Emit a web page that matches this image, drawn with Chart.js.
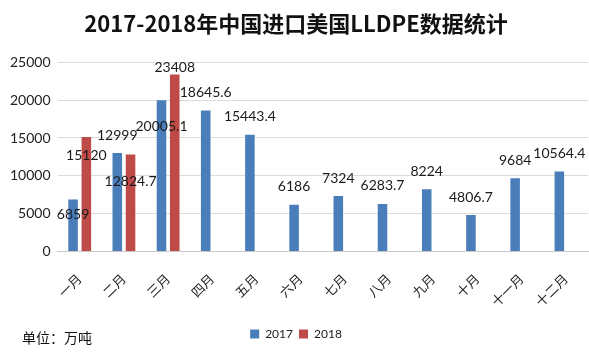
<!DOCTYPE html>
<html>
<head>
<meta charset="utf-8">
<script src="https://cdn.jsdelivr.net/npm/chart.js@4"></script>
<style>
  html, body { margin: 0; padding: 0; background: #fff; }
  #wrap { position: relative; width: 589px; height: 358px; }
  #unit { position: absolute; left: 22px; top: 327px; font: 14px "Noto Sans CJK SC", sans-serif; color: #111; }
</style>
</head>
<body>
<div id="wrap">
  <canvas id="c" width="589" height="358"></canvas>
  <div id="unit">单位：万吨</div>
</div>
<script>
const months = ["一月", "二月", "三月", "四月", "五月", "六月", "七月", "八月", "九月", "十月", "十一月", "十二月"];
const data2017 = [6859, 12999, 20005.1, 18645.6, 15443.4, 6186, 7324, 6283.7, 8224, 4806.7, 9684, 10564.4];
const data2018 = [15120, 12824.7, 23408, null, null, null, null, null, null, null, null, null];
// label nudges (px down from the default spot above the bar), like the hand-moved labels in the original
const shift2017 = [33, 0, 44, 0, 0, 0, 0, 0, 0, 0, 0, 0];
const shift2018 = [36, 45, 11, 0, 0, 0, 0, 0, 0, 0, 0, 0];

const fontFam = "Lato, 'Noto Sans CJK SC', sans-serif";

// 数据标签
const labelPlugin = {
  id: "barLabels",
  afterDatasetsDraw(chart) {
    const ctx = chart.ctx;
    const shifts = [shift2017, shift2018];
    ctx.save();
    ctx.font = "14px " + fontFam;
    ctx.fillStyle = "#1a1a1a";
    ctx.textAlign = "center";
    ctx.textBaseline = "middle";
    chart.data.datasets.forEach((ds, di) => {
      const meta = chart.getDatasetMeta(di);
      meta.data.forEach((bar, i) => {
        const v = ds.data[i];
        if (v == null) return;
        ctx.fillText(String(v), bar.x, bar.y - 18 + shifts[di][i]);
      });
    });
    ctx.restore();
  },
};

new Chart(document.getElementById("c"), {
  type: "bar",
  data: {
    labels: months,
    datasets: [
      {
        label: "2017",
        data: data2017,
        backgroundColor: "#4a7ebb",
        categoryPercentage: 0.6,
        barPercentage: 0.72,
      },
      {
        label: "2018",
        data: data2018,
        backgroundColor: "#be4b48",
        categoryPercentage: 0.6,
        barPercentage: 0.72,
      },
    ],
  },
  options: {
    responsive: false,
    animation: false,
    layout: { padding: { left: 3, right: 0, bottom: 8 } },
    plugins: {
      title: {
        display: true,
        text: "2017-2018年中国进口美国LLDPE数据统计",
        font: { size: 22, weight: "bold", family: "'Noto Sans CJK SC', sans-serif" },
        color: "#111",
        padding: { top: 10, bottom: 26 },
      },
      legend: {
        position: "bottom",
        labels: {
          boxWidth: 9,
          boxHeight: 9,
          font: { size: 12, family: fontFam },
          color: "#222",
          padding: 6,
        },
      },
      tooltip: { enabled: false },
    },
    scales: {
      x: {
        grid: { display: false },
        border: { color: "#c8c8c8" },
        ticks: {
          minRotation: 45,
          maxRotation: 45,
          color: "#222",
          font: { size: 13, family: fontFam },
          padding: 12,
        },
      },
      y: {
        min: 0,
        max: 25000,
        ticks: {
          stepSize: 5000,
          color: "#222",
          font: { size: 14, family: fontFam },
          padding: 7,
          callback: (v) => String(v),
        },
        grid: { color: "#dcdcdc", drawTicks: false },
        border: { display: false },
      },
    },
  },
  plugins: [labelPlugin],
});
</script>
</body>
</html>
